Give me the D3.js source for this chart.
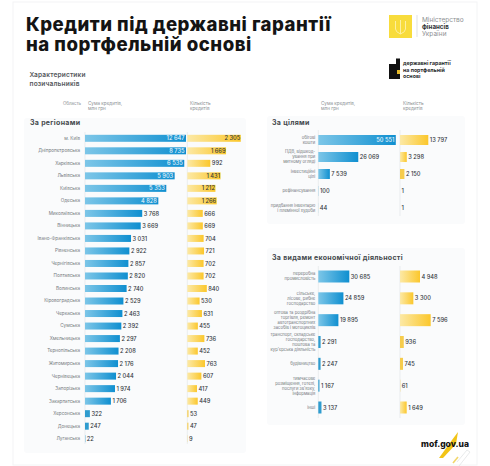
<!DOCTYPE html>
<html><head><meta charset="utf-8">
<script src="https://cdn.jsdelivr.net/npm/d3@7/dist/d3.min.js"></script>
<style>html,body{margin:0;padding:0;background:#fff}svg{display:block}text{font-family:Inter,"Open Sans",sans-serif}</style>
</head><body><svg id="chart" width="490" height="466"></svg>
<script>
// Кредити за регіонами
const regionNames = ["м. Київ","Дніпропетровська","Харківська","Львівська","Київська","Одеська","Миколаївська","Вінницька","Івано-Франківська","Рівненська","Чернігівська","Полтавська","Волинська","Кіровоградська","Черкаська","Сумська","Хмельницька","Тернопільська","Житомирська","Чернівецька","Запорізька","Закарпатська","Херсонська","Донецька","Луганська"];
const regionSums = [12647,8735,6535,5903,5353,4828,3768,3669,3031,2922,2857,2820,2740,2529,2463,2392,2297,2208,2176,2044,1974,1706,322,247,22];
const regionCounts = [2305,1669,992,1431,1212,1266,666,669,704,721,702,702,840,530,631,455,736,452,763,607,417,449,53,47,9];
// Кредити за цілями
const purposeNames = [["обігові","кошти"],["ПДВ, відшкод-","ування при","митному огляді"],["інвестиційні","цілі"],["рефінансування"],["придбання інвентарю","і племінної худоби"]];
const purposeSums = [50551,26069,7539,100,44];
const purposeCounts = [13797,3298,2150,1,1];
// Кредити за видами економічної діяльності
const activityNames = [["переробна","промисловість"],["сільське,","лісове, рибне","господарство"],["оптова та роздрібна","торгівля, ремонт","автотранспортних","засобів і мотоциклів"],["транспорт, складське","господарство,","поштова та","кур'єрська діяльність"],["будівництво"],["тимчасове","розміщення, готелі,","послуги зв'язку,","інформація"],["інші"]];
const activitySums = [30685,24859,19895,2291,2247,1167,3137];
const activityCounts = [4948,3300,7596,936,745,61,1649];

const fmt = v => d3.format(",")(v).replace(/,/g," ");
const svg = d3.select("#chart");
const defs = svg.append("defs");
function grad(id, a, b){
  const g = defs.append("linearGradient").attr("id",id);
  g.append("stop").attr("offset",0).attr("stop-color",a);
  g.append("stop").attr("offset",1).attr("stop-color",b);
}
grad("blue","#7cc6e8","#0f8fd0");
grad("gold","#fce9a6","#fbc72c");

// Тло сторінки та панелі
svg.append("rect").attr("x",13).attr("y",2).attr("width",464).attr("height",463).attr("fill","#fff").attr("stroke","#f3f4f5");
svg.append("rect").attr("x",24).attr("y",118).attr("width",222).attr("height",335).attr("fill","#fafbfc").attr("rx",3);
svg.append("rect").attr("x",267).attr("y",116).attr("width",198).attr("height",108).attr("fill","#fafbfc").attr("rx",3);
svg.append("rect").attr("x",267).attr("y",248).attr("width",198).attr("height",177).attr("fill","#fafbfc").attr("rx",3);

function text(x,y,s,o={}){
  return svg.append("text").attr("x",x).attr("y",y).text(s)
    .attr("font-size",o.size||5).attr("fill",o.fill||"#6d7378")
    .attr("font-weight",o.weight||400).attr("text-anchor",o.anchor||"start")
    .attr("letter-spacing",o.ls||0);
}

// Заголовок
text(26,31,"Кредити під державні гарантії",{size:18.6,weight:800,fill:"#141414",ls:.5});
text(26,50.5,"на портфельній основі",{size:18.6,weight:800,fill:"#141414",ls:.5});
text(29.5,77,"Характеристики",{size:6.6,weight:600,fill:"#55595d",ls:.15});
text(29.5,85.5,"позичальників",{size:6.6,weight:600,fill:"#55595d",ls:.15});

// Заголовки колонок
text(63,105,"Область",{size:4.4,fill:"#8a8f93"});
[[88,"Сума кредитів,","млн грн"],[190,"Кількість","кредитів"],[321,"Сума кредитів,","млн грн"],[403,"Кількість","кредитів"]].forEach(([x,a,b])=>{
  text(x,105,a,{size:4.6,fill:"#8a8f93"});
  text(x,110,b,{size:4.6,fill:"#8a8f93"});
});

// Логотип міністерства
svg.append("rect").attr("x",389).attr("y",15).attr("width",23).attr("height",23).attr("fill","#f8dc3c");
svg.append("path").attr("d","M400.5 20v14M395.5 21v8q0 3 5 5q5-2 5-5v-8").attr("fill","none").attr("stroke","#fdf0a0").attr("stroke-width",1);
svg.append("line").attr("x1",417).attr("x2",417).attr("y1",15).attr("y2",37).attr("stroke","#c9cccd").attr("stroke-width",.6);
text(422,21.5,"Міністерство",{size:6.5,fill:"#8d9194"});
text(422,28.5,"фінансів",{size:6.2,weight:700,fill:"#303336"});
text(422,35.5,"України",{size:6.5,fill:"#8d9194"});

// Знак програми
svg.append("path").attr("d","M389 64h7v-5.5h4v20.5h-11z").attr("fill","#111");
svg.append("rect").attr("x",397).attr("y",70).attr("width",3).attr("height",4).attr("fill","#e5b92a");
["державні гарантії","на портфельній","основі"].forEach((s,i)=>text(403,65+i*6.7,s,{size:5.3,weight:700,fill:"#2a2c2e"}));

function section(o){
  const y = d3.scalePoint().domain(d3.range(o.names.length)).range(o.yRange);
  const sx = d3.scaleLinear().domain([0,o.sumMax]).range([0,o.sumWidth]).clamp(true);
  const cx = d3.scaleLinear().domain([0,o.countMax]).range([0,o.countWidth]).clamp(true);
  // базові лінії колонок
  [o.x0,o.x1].forEach(x=>svg.append("line").attr("x1",x).attr("x2",x).attr("y1",o.axis[0]).attr("y2",o.axis[1]).attr("stroke","#dfe3e6").attr("stroke-width",.6));
  const row = svg.append("g").selectAll("g").data(o.names).join("g");
  row.each(function(name,i){
    const g = d3.select(this), cy = y(i), lines = [].concat(name);
    const lh = o.labelLine||5;
    lines.forEach((s,k)=>g.append("text").attr("x",o.x0-o.labelGap).attr("y",cy+1.4+(k-(lines.length-1)/2)*lh)
      .attr("text-anchor","end").attr("font-size",o.labelSize).attr("fill","#74797d").text(s));
    const sw = sx(o.sums[i]), cw = cx(o.counts[i]);
    const h = o.barH;
    g.append("rect").attr("x",o.x0).attr("y",cy-h/2).attr("width",sw).attr("height",h).attr("fill",sw>6?"url(#blue)":"#2f9ccf");
    g.append("rect").attr("x",o.x1).attr("y",cy-h/2).attr("width",cw).attr("height",h).attr("fill",cw>6?"url(#gold)":"#f6cc4d");
    const inside = sw>=o.insideFrom;
    g.append("text").attr("x",inside?o.x0+sw-1.5:o.x0+sw+1.5).attr("y",cy+2.1).attr("text-anchor",inside?"end":"start")
      .attr("font-size",o.valueSize).attr("font-weight",500).attr("fill",inside?"#e8f5fb":"#33383c").text(fmt(o.sums[i]));
    const cInside = cw>=o.countInsideFrom;
    g.append("text").attr("x",cInside?o.x1+cw-.5:o.x1+cw+1.5).attr("y",cy+2.1).attr("text-anchor",cInside?"end":"start")
      .attr("font-size",o.valueSize).attr("font-weight",500).attr("fill","#33383c").text(fmt(o.counts[i]));
  });
}

text(30,125,"За регіонами",{size:7,weight:700,fill:"#45494d",ls:.3});
section({names:regionNames,sums:regionSums,counts:regionCounts,yRange:[138.3,438.7],x0:85,x1:187.3,
  sumMax:6650,sumWidth:101,countMax:2305,countWidth:53.5,barH:7,axis:[132,444],labelGap:5,labelSize:4.6,valueSize:5.7,insideFrom:70,countInsideFrom:26});

text(272,125,"За цілями",{size:7,weight:700,fill:"#45494d",ls:.3});
section({names:purposeNames,sums:purposeSums,counts:purposeCounts,yRange:[140,208],x0:318.3,x1:400,
  sumMax:50551,sumWidth:77.5,countMax:13797,countWidth:28.3,barH:10,axis:[130,216],labelGap:3,labelSize:4.2,labelLine:5,valueSize:5.7,insideFrom:60,countInsideFrom:99});

text(272,260,"За видами економічної діяльності",{size:7,weight:700,fill:"#45494d",ls:.3});
section({names:activityNames,sums:activitySums,counts:activityCounts,yRange:[276.5,407.5],x0:318.3,x1:400,
  sumMax:30685,sumWidth:31,countMax:7596,countWidth:30.7,barH:12,axis:[266,418],labelGap:3,labelSize:4.2,labelLine:5,valueSize:5.7,insideFrom:60,countInsideFrom:99});

// Адреса сайту та смуги в куті
svg.append("path").attr("d","M439 458L452 440L458 432L456 444L443 458Z").attr("fill","#f2c417");
svg.append("path").attr("d","M459 466L470 452L467 450L457 462").attr("stroke","#d9dcde").attr("stroke-width",.6).attr("fill","none");
svg.append("path").attr("d","M453 463L458 457").attr("stroke","#f2d66a").attr("stroke-width",1.6);
text(421,447,"mof.gov.ua",{size:8.5,weight:800,fill:"#141414"});
</script></body></html>
